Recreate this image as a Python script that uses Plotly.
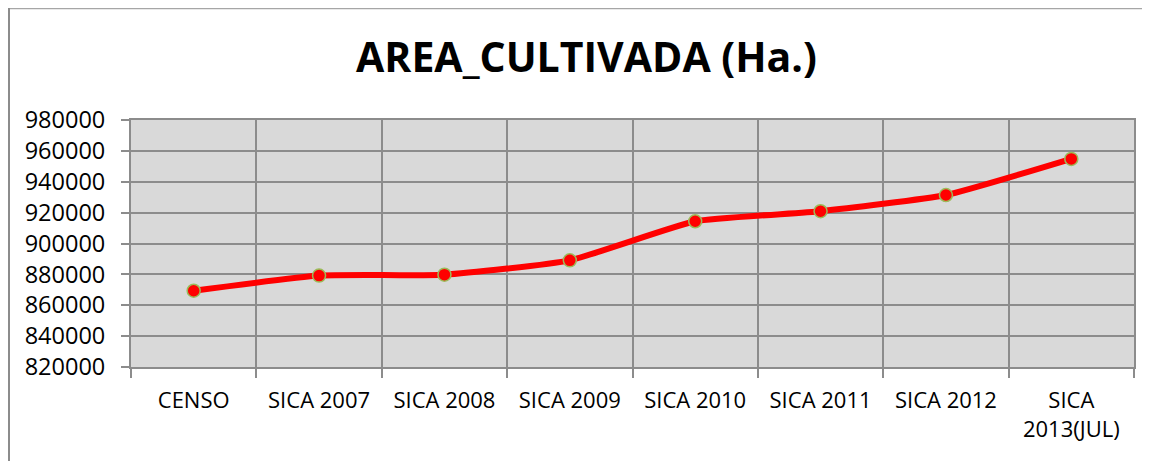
import plotly.graph_objects as go

categories = ["CENSO", "SICA 2007", "SICA 2008", "SICA 2009", "SICA 2010",
              "SICA 2011", "SICA 2012", "SICA<br>2013(JUL)"]
area_ha = [869400, 879200, 879800, 889100, 914400, 920900, 931400, 954800]
y_ticks = [820000, 840000, 860000, 880000, 900000, 920000, 940000, 960000, 980000]

# page is offset by the 8px body margin
OFF = 8
W, H = 1150, 461
L, T = 131 - OFF, 120 - OFF
R = W - (1134 - OFF)
B = H - (367 - OFF)

x_idx = list(range(len(categories)))
boundaries = [i - 0.5 for i in range(len(categories) + 1)]

fig = go.Figure()
fig.add_trace(go.Scatter(
    x=x_idx, y=area_ha, mode="lines+markers",
    line=dict(color="#ff0000", width=6, shape="spline", smoothing=0.45),
    marker=dict(color="#ff0000", size=13, line=dict(color="#9bbb59", width=1.5)),
    showlegend=False, hoverinfo="y",
))

grid = "#8c8c8c"
font = "Open Sans, Noto Sans, sans-serif"
pw, ph = W - L - R, H - T - B

fig.update_layout(
    width=W, height=H,
    margin=dict(l=L, r=R, t=T, b=B),
    paper_bgcolor="white", plot_bgcolor="#d9d9d9",
    title=dict(text="<b>AREA_CULTIVADA (Ha.)</b>", x=(586.5 - OFF) / W, xanchor="center",
               xref="container",
               y=1 - (58 - OFF) / H, yanchor="middle", yref="container",
               font=dict(family=font, size=41, color="#000000")),
    font=dict(family=font, color="#000000"),
    xaxis=dict(
        range=[-0.5, len(categories) - 0.5],
        tickmode="array", tickvals=x_idx, ticktext=categories,
        showgrid=False, ticks="", zeroline=False,
        tickfont=dict(size=22, family=font, color="#000000"),
        ticklabelstandoff=13,
        showline=True, linecolor=grid, linewidth=2, mirror=True,
        minor=dict(tickmode="array", tickvals=boundaries, showgrid=True,
                   gridcolor=grid, gridwidth=2, ticks="outside",
                   ticklen=9, tickwidth=2, tickcolor=grid),
    ),
    yaxis=dict(
        range=[820000, 980000],
        tickmode="array", tickvals=y_ticks, ticktext=[str(v) for v in y_ticks],
        showgrid=True, gridcolor=grid, gridwidth=2, zeroline=False,
        ticks="outside", ticklen=8, tickwidth=2, tickcolor=grid,
        tickfont=dict(size=23.5, family=font, color="#000000"),
        ticklabelstandoff=11,
        showline=True, linecolor=grid, linewidth=2, mirror=True,
    ),
    shapes=[
        dict(type="line", xref="paper", yref="paper",
             x0=(0 - L) / pw, x1=(W + 10 - L) / pw,
             y0=(H - B - 0.5) / ph, y1=(H - B - 0.5) / ph,
             line=dict(color="#a6a6a6", width=1.5), layer="above"),
        dict(type="line", xref="paper", yref="paper",
             x0=(1 - L) / pw, x1=(1 - L) / pw,
             y0=(H - B) / ph, y1=-(B + 10) / ph,
             line=dict(color="#8c8c8c", width=2), layer="above"),
    ],
)

fig.write_html("out.html")
